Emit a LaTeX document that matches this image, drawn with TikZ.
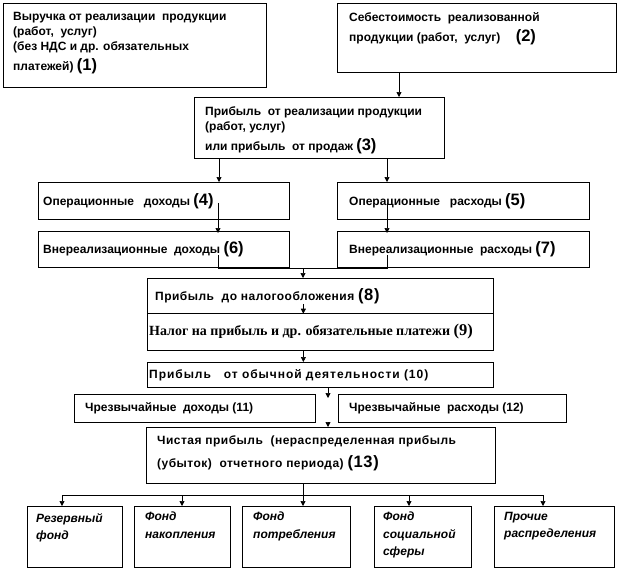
\documentclass[tikz,border=0pt]{standalone}
\usepackage{fontspec}
\setmainfont{Liberation Sans}
\newfontfamily\timesbf{Liberation Serif}
\usetikzlibrary{arrows.meta,positioning,calc}

\tikzset{
  blk/.style={draw, line width=0.7pt, anchor=north west, inner sep=0pt},
  txt/.style={align=left, inner sep=0pt, font=\fontsize{12}{15}\selectfont\bfseries},
  fund/.style={align=left, inner sep=0pt, anchor=north west, font=\fontsize{12}{17.5}\selectfont\bfseries\itshape},
  arr/.style={-{Triangle[length=5pt,width=5pt]}, line width=0.7pt},
  lnk/.style={line width=0.7pt},
}
\newcommand{\nbig}[1]{{\fontsize{16.5}{14}\selectfont(#1)}}

\begin{document}
\begin{tikzpicture}[x=1pt, y=-1pt]
\useasboundingbox (0,0) rectangle (618,570);

% top row
\node[blk, minimum width=263pt, minimum height=84pt] (n1) at (3,3) {};
\node[txt, anchor=north west] (t1) at ([shift={(10,9)}]n1.north west)
  {Выручка от реализации\ \ продукции\\(работ,\ \ услуг)\\(без НДС и др. обязательных\\[5pt]платежей) \nbig{1}};
\node[blk, minimum width=279pt, minimum height=69pt] (n2) at (337,3) {};
\node[txt, anchor=north west] (t2) at ([shift={(12,9)}]n2.north west)
  {Себестоимость\ \ реализованной\\[5pt]продукции (работ,\ \ услуг) \quad\nbig{2}};

% profit from sales
\node[blk, minimum width=250pt, minimum height=61pt] (n3) at (194,97) {};
\node[txt, anchor=north west] (t3) at ([shift={(11,9)}]n3.north west)
  {Прибыль\ \ от реализации продукции\\(работ, услуг)\\[5pt]или прибыль\ \ от продаж \nbig{3}};

% operating and other items
\node[blk, minimum width=251pt, minimum height=37pt] (n4) at (38,182) {};
\node[txt, anchor=west] (t4) at ([xshift=5pt]n4.west) {Операционные\ \ \ доходы \nbig{4}};
\node[blk, minimum width=252pt, minimum height=37pt] (n5) at (337,182) {};
\node[txt, anchor=west] (t5) at ([xshift=12pt]n5.west) {Операционные\ \ \ расходы \nbig{5}};
\node[blk, minimum width=251pt, minimum height=36pt] (n6) at (38,231) {};
\node[txt, anchor=west] (t6) at ([xshift=5pt]n6.west) {Внереализационные\ \ доходы \nbig{6}};
\node[blk, minimum width=252pt, minimum height=36pt] (n7) at (337,231) {};
\node[txt, anchor=west] (t7) at ([xshift=12pt]n7.west) {Внереализационные\ \ расходы \nbig{7}};

% before tax
\node[blk, minimum width=346pt, minimum height=35pt] (n8) at (147,278) {};
\node[txt, anchor=west, font=\fontsize{12}{15}\selectfont\bfseries\addfontfeature{LetterSpace=4}] (t8) at ([xshift=8pt]n8.west)
  {Прибыль\ \ до налогообложения \nbig{8}};
\node[blk, minimum width=346pt, minimum height=37pt] (n9) at (147,313) {};
\node[txt, anchor=west, font=\fontsize{14}{14}\selectfont\timesbf\bfseries] (t9) at ([xshift=2pt]n9.west)
  {Налог на прибыль и др. обязательные платежи {\fontsize{16.5}{14}\selectfont(9)}};
\node[blk, minimum width=346pt, minimum height=25pt] (n10) at (147,362) {};
\node[txt, anchor=west, font=\fontsize{12}{15}\selectfont\bfseries\addfontfeature{LetterSpace=8}] (t10) at ([xshift=2pt]n10.west)
  {Прибыль\ \ \ от обычной деятельности (10)};

% extraordinary
\node[blk, minimum width=241pt, minimum height=28pt] (n11) at (74,394) {};
\node[txt, anchor=west] (t11) at ([xshift=11pt]n11.west) {Чрезвычайные\ \ доходы (11)};
\node[blk, minimum width=228pt, minimum height=28pt] (n12) at (338,394) {};
\node[txt, anchor=west] (t12) at ([xshift=11pt]n12.west) {Чрезвычайные\ \ расходы (12)};

% net profit
\node[blk, minimum width=349pt, minimum height=56pt] (n13) at (146,427) {};
\node[txt, anchor=north west, font=\fontsize{12}{15}\selectfont\bfseries\addfontfeature{LetterSpace=4}] (t13) at ([shift={(11,8)}]n13.north west)
  {Чистая прибыль\ \ (нераспределенная прибыль\\[8pt](убыток)\ \ отчетного периода) \nbig{13}};

% funds
\node[blk, minimum width=95pt, minimum height=61pt] (fa) at (27,506) {};
\node[fund] (ta) at ([shift={(9,7)}]fa.north west) {Резервный\\фонд};
\node[blk, minimum width=96pt, minimum height=61pt] (fb) at (134,506) {};
\node[fund] (tb) at ([shift={(11,6)}]fb.north west) {Фонд\\накопления};
\node[blk, minimum width=108pt, minimum height=61pt] (fc) at (242,506) {};
\node[fund] (tc) at ([shift={(11,6)}]fc.north west) {Фонд\\потребления};
\node[blk, minimum width=97pt, minimum height=61pt] (fd) at (374,506) {};
\node[fund] (td) at ([shift={(9,6)}]fd.north west) {Фонд\\социальной\\сферы};
\node[blk, minimum width=120pt, minimum height=61pt] (fe) at (494,506) {};
\node[fund] (te) at ([shift={(10,6)}]fe.north west) {Прочие\\распределения};

% junctions
\coordinate (j67) at (303,268);
\coordinate (g1) at (328,398);
\coordinate (g2) at (328,422);
\coordinate (j13) at (303,495);

\draw[arr] ([xshift=62pt]n2.south west) -- ([xshift=62pt]n2.south west |- n3.north);
\draw[arr] ([xshift=25pt]n3.south west) -- ([xshift=25pt]n3.south west |- n4.north);
\draw[arr] ([xshift=193pt]n3.south west) -- ([xshift=193pt]n3.south west |- n5.north);
\draw[arr] ([shift={(180,2)}]n4.west) -- ([shift={(180,2)}]n4.west |- n6.north);
\draw[arr] ([shift={(50,2)}]n5.west) -- ([shift={(50,2)}]n5.west |- n7.north);
\draw[lnk] ([shift={(180,6)}]n6.west) |- (j67);
\draw[lnk] ([shift={(50,6)}]n7.west) |- (j67);
\draw[arr] (j67) -- (j67 |- n8.north);
\draw[arr] ([shift={(-17,8)}]n8.center) -- ([xshift=-17pt]n8.south);
\draw[arr] ([xshift=-17pt]n9.south) -- ([xshift=-17pt]n10.north);
\draw[arr] (n10.south -| g1) -- (g1);
\draw[arr] (g2) -- (g2 |- n13.north);
\draw[lnk] (n13.south -| j13) -- (j13);

\foreach \x/\b in {62/fa,182/fb,303/fc,409/fd,543/fe}{
  \coordinate (tap-\b) at (\x,495);
  \draw[arr] (tap-\b) -- (tap-\b |- \b.north);
}
\draw[lnk] (tap-fa) -- (tap-fe);
\end{tikzpicture}
\end{document}
